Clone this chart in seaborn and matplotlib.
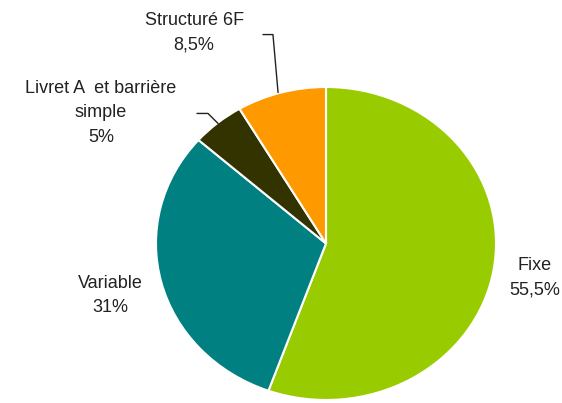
import matplotlib
matplotlib.use("Agg")
import matplotlib.pyplot as plt
import seaborn as sns

# Data
categories = ["Fixe", "Variable", "Livret A  et barrière\nsimple", "Structuré 6F"]
values = [55.5, 31, 5, 8.5]
value_labels = ["55,5%", "31%", "5%", "8,5%"]
colors = ["#99CC00", "#008080", "#333300", "#FF9900"]

sns.set_theme(style="white")
plt.rcParams['font.family'] = ['Liberation Sans', 'DejaVu Sans']

fig = plt.figure(figsize=(5.62, 4.03), dpi=100)
# pie spans x 156..496 px, y 87..400 px (elliptical)
ax = fig.add_axes([156/562, (403-400)/403, 340/562, 313/403])
ax.pie(values, colors=colors, startangle=90, counterclock=False,
       wedgeprops=dict(edgecolor="white", linewidth=1.5))
ax.set_xlim(-1, 1)
ax.set_ylim(-1, 1)
ax.set_aspect("auto")
ax.axis("off")

txt_kw = dict(ha="center", va="center", fontsize=13, color="#222222",
              clip_on=False, linespacing=1.55)
label_pos = [(1.229, -0.217), (-1.271, -0.332), (-1.324, 0.834), (-0.776, 1.345)]
for cat, vl, (x, y) in zip(categories, value_labels, label_pos):
    ax.text(x, y, f"{cat}\n{vl}", **txt_kw)

# leader lines
ax.plot([-0.371, -0.312, -0.282], [1.335, 1.335, 0.965], color="#222222",
        lw=1, clip_on=False)
ax.plot([-0.759, -0.694, -0.635], [0.831, 0.831, 0.767], color="#222222",
        lw=1, clip_on=False)

fig.savefig("out.png", dpi=100, facecolor="white")
